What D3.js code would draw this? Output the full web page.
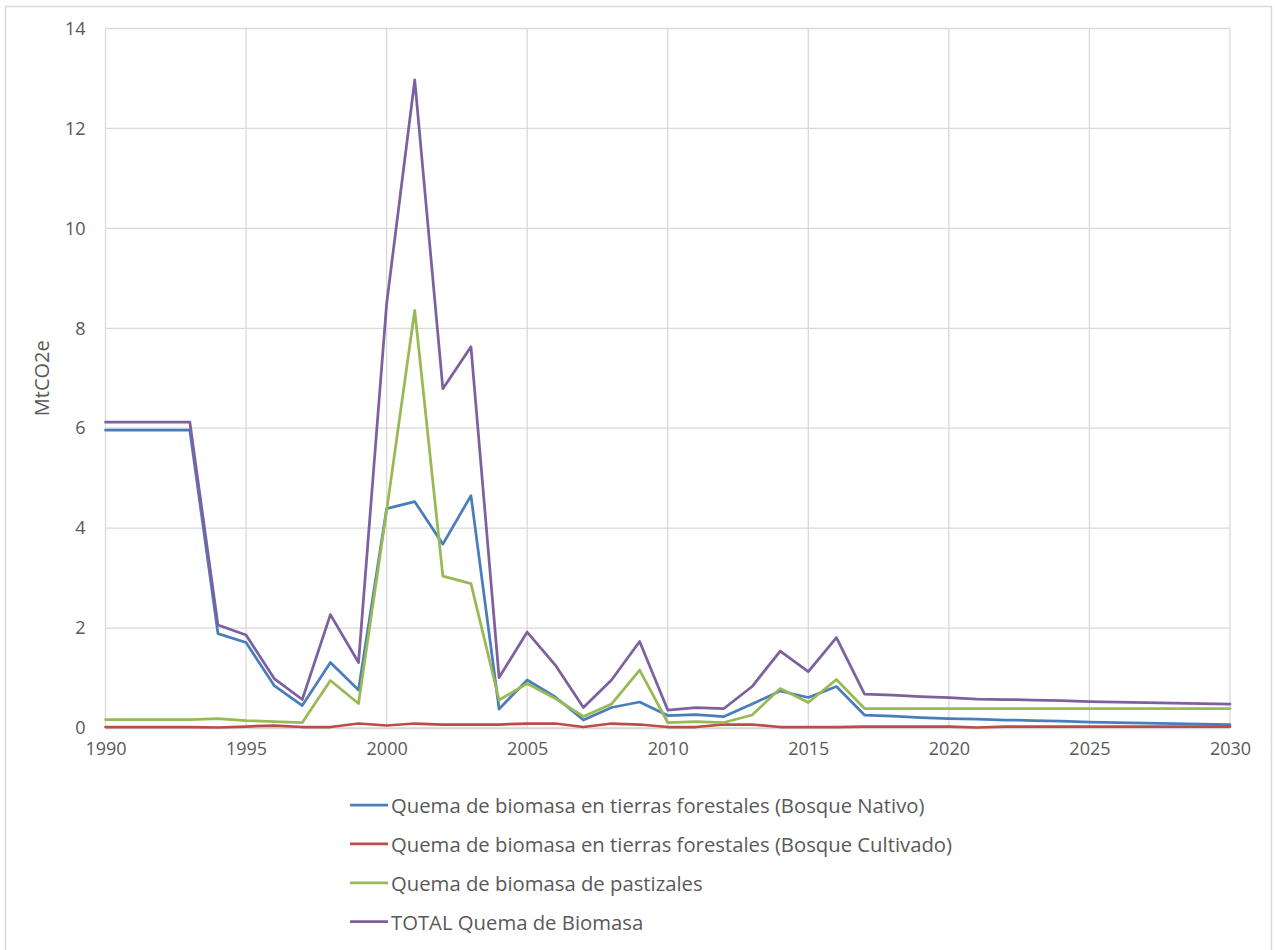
<!DOCTYPE html>
<html>
<head>
<meta charset="utf-8">
<script src="https://cdn.jsdelivr.net/npm/d3@7/dist/d3.min.js"></script>
<style>
  html, body { margin: 0; padding: 0; background: #ffffff; }
  svg { display: block; }
  text { font-family: "Open Sans", Lato, sans-serif; fill: #595959; }
</style>
</head>
<body>
<svg id="chart" width="1275" height="950"></svg>
<script>
// Emisiones por quema de biomasa, MtCO2e, 1990-2030
const years = [1990,1991,1992,1993,1994,1995,1996,1997,1998,1999,
               2000,2001,2002,2003,2004,2005,2006,2007,2008,2009,
               2010,2011,2012,2013,2014,2015,2016,2017,2018,2019,
               2020,2021,2022,2023,2024,2025,2026,2027,2028,2029,2030];

const bosqueNativo = [5.96,5.96,5.96,5.96,1.89,1.71,0.85,0.45,1.31,0.76,
                      4.39,4.53,3.68,4.65,0.38,0.96,0.62,0.16,0.41,0.52,
                      0.25,0.27,0.23,0.48,0.74,0.61,0.83,0.26,0.24,0.21,
                      0.19,0.18,0.16,0.15,0.14,0.12,0.11,0.10,0.09,0.08,0.07];

const bosqueCultivado = [0.02,0.02,0.02,0.02,0.01,0.03,0.05,0.02,0.02,0.09,
                         0.05,0.09,0.07,0.07,0.07,0.09,0.09,0.02,0.09,0.07,
                         0.02,0.02,0.07,0.07,0.02,0.02,0.02,0.03,0.03,0.03,
                         0.03,0.01,0.03,0.03,0.03,0.03,0.03,0.03,0.03,0.03,0.03];

const pastizales = [0.17,0.17,0.17,0.17,0.19,0.15,0.13,0.11,0.95,0.49,
                    4.35,8.36,3.04,2.89,0.56,0.89,0.59,0.23,0.48,1.16,
                    0.11,0.13,0.11,0.26,0.79,0.51,0.97,0.39,0.39,0.39,
                    0.39,0.39,0.39,0.39,0.39,0.39,0.39,0.39,0.39,0.39,0.39];

const totalBiomasa = [6.12,6.12,6.12,6.12,2.06,1.86,0.99,0.57,2.27,1.31,
                      8.49,12.97,6.79,7.63,1.01,1.92,1.26,0.41,0.96,1.73,
                      0.36,0.41,0.39,0.83,1.54,1.13,1.81,0.68,0.66,0.63,
                      0.61,0.58,0.57,0.56,0.55,0.53,0.52,0.51,0.50,0.49,0.48];

const seriesNames = [
  "Quema de biomasa en tierras forestales (Bosque Nativo)",
  "Quema de biomasa en tierras forestales (Bosque Cultivado)",
  "Quema de biomasa de pastizales",
  "TOTAL Quema de Biomasa"
];
const seriesValues = [bosqueNativo, bosqueCultivado, pastizales, totalBiomasa];
const seriesColors = ["#4a7ebb", "#be4b48", "#98b954", "#7d60a0"];

const xTicks = [1990,1995,2000,2005,2010,2015,2020,2025,2030];
const yTicks = [0,2,4,6,8,10,12,14];
const yTitle = "MtCO2e";

const svg = d3.select("#chart");
const plot = { left: 105.5, right: 1230, top: 28.5, bottom: 728 };

// chart area border
svg.append("rect")
  .attr("x", 5.5).attr("y", 6.5)
  .attr("width", 1266).attr("height", 945)
  .attr("fill", "#ffffff")
  .attr("stroke", "#d9d9d9").attr("stroke-width", 1.5);

const x = d3.scaleLinear().domain([1990, 2030]).range([plot.left, plot.right]);
const y = d3.scaleLinear().domain([0, 14]).range([plot.bottom, plot.top]);

// gridlines
const grid = svg.append("g");
grid.selectAll("line.h").data(yTicks).join("line")
  .attr("x1", plot.left).attr("x2", plot.right)
  .attr("y1", d => y(d)).attr("y2", d => y(d))
  .attr("stroke", "#d9d9d9").attr("stroke-width", 1.3);
grid.selectAll("line.v").data(xTicks).join("line")
  .attr("y1", plot.top).attr("y2", plot.bottom)
  .attr("x1", d => x(d)).attr("x2", d => x(d))
  .attr("stroke", "#d9d9d9").attr("stroke-width", 1.3);

// axes
const yAxis = svg.append("g")
  .attr("transform", `translate(${plot.left},0)`)
  .call(d3.axisLeft(y).tickValues(yTicks).tickSize(0).tickPadding(20));
yAxis.select(".domain").remove();
yAxis.selectAll("text").style("font-size", "18px").attr("fill", "#595959");

const xAxis = svg.append("g")
  .attr("transform", `translate(0,${plot.bottom})`)
  .call(d3.axisBottom(x).tickValues(xTicks).tickFormat(d3.format("d")).tickSize(0).tickPadding(14));
xAxis.select(".domain")
  .attr("stroke", "#d9d9d9").attr("stroke-width", 1.3);
xAxis.selectAll("text").style("font-size", "18px").attr("fill", "#595959");

// y-axis title
svg.append("text")
  .attr("transform", `translate(41,${(plot.top + plot.bottom) / 2}) rotate(-90)`)
  .attr("text-anchor", "middle")
  .attr("dominant-baseline", "central")
  .style("font-size", "20px")
  .text(yTitle);

// series lines
const line = d3.line()
  .x((d, i) => x(years[i]))
  .y(d => y(d));

svg.append("g").selectAll("path").data(seriesValues).join("path")
  .attr("d", d => line(d))
  .attr("fill", "none")
  .attr("stroke", (d, i) => seriesColors[i])
  .attr("stroke-width", 2.75)
  .attr("stroke-linejoin", "round")
  .attr("stroke-linecap", "round");

// legend
const legend = svg.append("g").attr("transform", "translate(350,805)");
const rows = legend.selectAll("g").data(seriesNames).join("g")
  .attr("transform", (d, i) => `translate(0,${i * 38.9})`);
rows.append("line")
  .attr("x1", 0).attr("x2", 38)
  .attr("stroke", (d, i) => seriesColors[i])
  .attr("stroke-width", 2.75);
rows.append("text")
  .attr("x", 41)
  .attr("dominant-baseline", "central")
  .style("font-size", "20.3px")
  .text(d => d);
</script>
</body>
</html>
